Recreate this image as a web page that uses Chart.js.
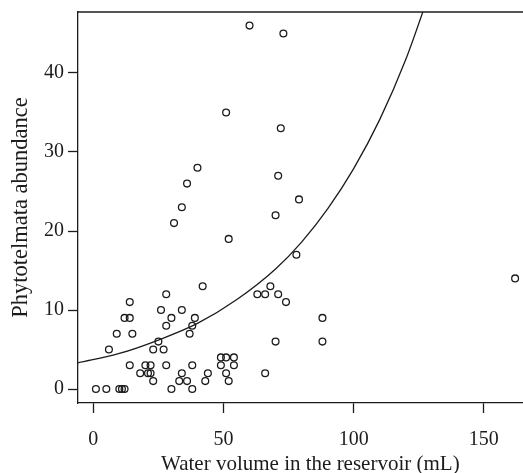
<!DOCTYPE html>
<html>
<head>
<meta charset="utf-8">
<script src="https://cdn.jsdelivr.net/npm/chart.js@4"></script>
<style>
  html, body { margin: 0; padding: 0; background: #fff; overflow: hidden; }
  /* the plot box runs past the right edge of the picture, so the canvas is wider and cropped */
  #wrap { width: 523px; height: 473px; overflow: hidden; }
</style>
</head>
<body>
<div id="wrap"><canvas id="myChart" width="548" height="473"></canvas></div>
<script>
// observed points: water volume (mL) vs abundance
const volume = [60, 73, 51, 72, 40, 71, 36, 34, 70, 79, 31, 52, 78, 162, 42, 28, 63, 66, 68, 71, 74,
  14, 26, 34, 12, 14, 30, 39, 88, 28, 38, 9, 15, 37, 25, 70, 88, 6, 23, 27, 49, 51, 54,
  14, 20, 22, 28, 38, 49, 54, 18, 21, 22, 34, 44, 51, 66, 23, 33, 36, 43, 52,
  1, 5, 10, 11, 12, 30, 38];
const abundance = [46, 45, 35, 33, 28, 27, 26, 23, 22, 24, 21, 19, 17, 14, 13, 12, 12, 12, 13, 12, 11,
  11, 10, 10, 9, 9, 9, 9, 9, 8, 8, 7, 7, 7, 6, 6, 6, 5, 5, 5, 4, 4, 4,
  3, 3, 3, 3, 3, 3, 3, 2, 2, 2, 2, 2, 2, 2, 1, 1, 1, 1, 1,
  0, 0, 0, 0, 0, 0, 0];

// fitted curve
const curveX = [-6, 10, 25, 40, 55, 70, 80, 90, 100, 110, 120, 130];
const curveY = [3.3, 4.5, 6.2, 8.3, 11.3, 15.2, 18.6, 22.8, 27.9, 34.1, 41.7, 51.0];

const xTicks = [0, 50, 100, 150];
const yTicks = [0, 10, 20, 30, 40];

const ink = "#1c1c1c";
const serif = "'Liberation Serif', 'Times New Roman', serif";

// top line of the box
const topFrame = {
  id: "topFrame",
  afterDraw(chart) {
    const { ctx, chartArea } = chart;
    ctx.save();
    ctx.strokeStyle = ink;
    ctx.lineWidth = 1.3;
    ctx.beginPath();
    ctx.moveTo(chartArea.left, chartArea.top);
    ctx.lineTo(chartArea.right, chartArea.top);
    ctx.stroke();
    ctx.restore();
  },
};

const ctx = document.getElementById("myChart");
new Chart(ctx, {
  type: "scatter",
  data: {
    datasets: [
      {
        label: "obs",
        data: volume.map((v, i) => ({ x: v, y: abundance[i] })),
        pointStyle: "circle",
        pointRadius: 3.4,
        borderWidth: 1.3,
        borderColor: ink,
        backgroundColor: "rgba(0,0,0,0)",
      },
      {
        type: "line",
        label: "fit",
        data: curveX.map((v, i) => ({ x: v, y: curveY[i] })),
        borderColor: ink,
        borderWidth: 1.3,
        pointRadius: 0,
        cubicInterpolationMode: "monotone",
        fill: false,
      },
    ],
  },
  options: {
    responsive: false,
    animation: false,
    layout: { padding: { top: 12, left: 0, right: 0, bottom: 0 } },
    plugins: { legend: { display: false }, tooltip: { enabled: false } },
    scales: {
      x: {
        type: "linear",
        min: -5.88,
        max: 172.6,
        afterBuildTicks: (s) => { s.ticks = xTicks.map((v) => ({ value: v })); },
        afterFit: (s) => { s.height = 70; },
        grid: { drawOnChartArea: false, drawTicks: true, tickLength: 10, color: ink, tickWidth: 1.3 },
        border: { color: ink, width: 1.3 },
        ticks: { color: ink, font: { family: serif, size: 20 }, padding: 15, maxRotation: 0 },
        title: {
          display: true,
          text: "Water volume in the reservoir (mL)",
          color: ink,
          font: { family: serif, size: 21, lineHeight: 1 },
          padding: { top: 0, bottom: -2 },
        },
      },
      y: {
        type: "linear",
        min: -1.77,
        max: 47.72,
        afterBuildTicks: (s) => { s.ticks = yTicks.map((v) => ({ value: v })); },
        afterFit: (s) => { s.width = 78; },
        grid: { drawOnChartArea: false, drawTicks: true, tickLength: 10, color: ink, tickWidth: 1.3 },
        border: { color: ink, width: 1.3 },
        ticks: { color: ink, font: { family: serif, size: 20, lineHeight: 0.8 }, padding: 4 },
        title: {
          display: true,
          text: "Phytotelmata abundance",
          color: ink,
          font: { family: serif, size: 22.5, lineHeight: 1.2 },
          padding: { top: 8, bottom: 0 },
        },
      },
    },
  },
  plugins: [topFrame],
});
</script>
</body>
</html>
